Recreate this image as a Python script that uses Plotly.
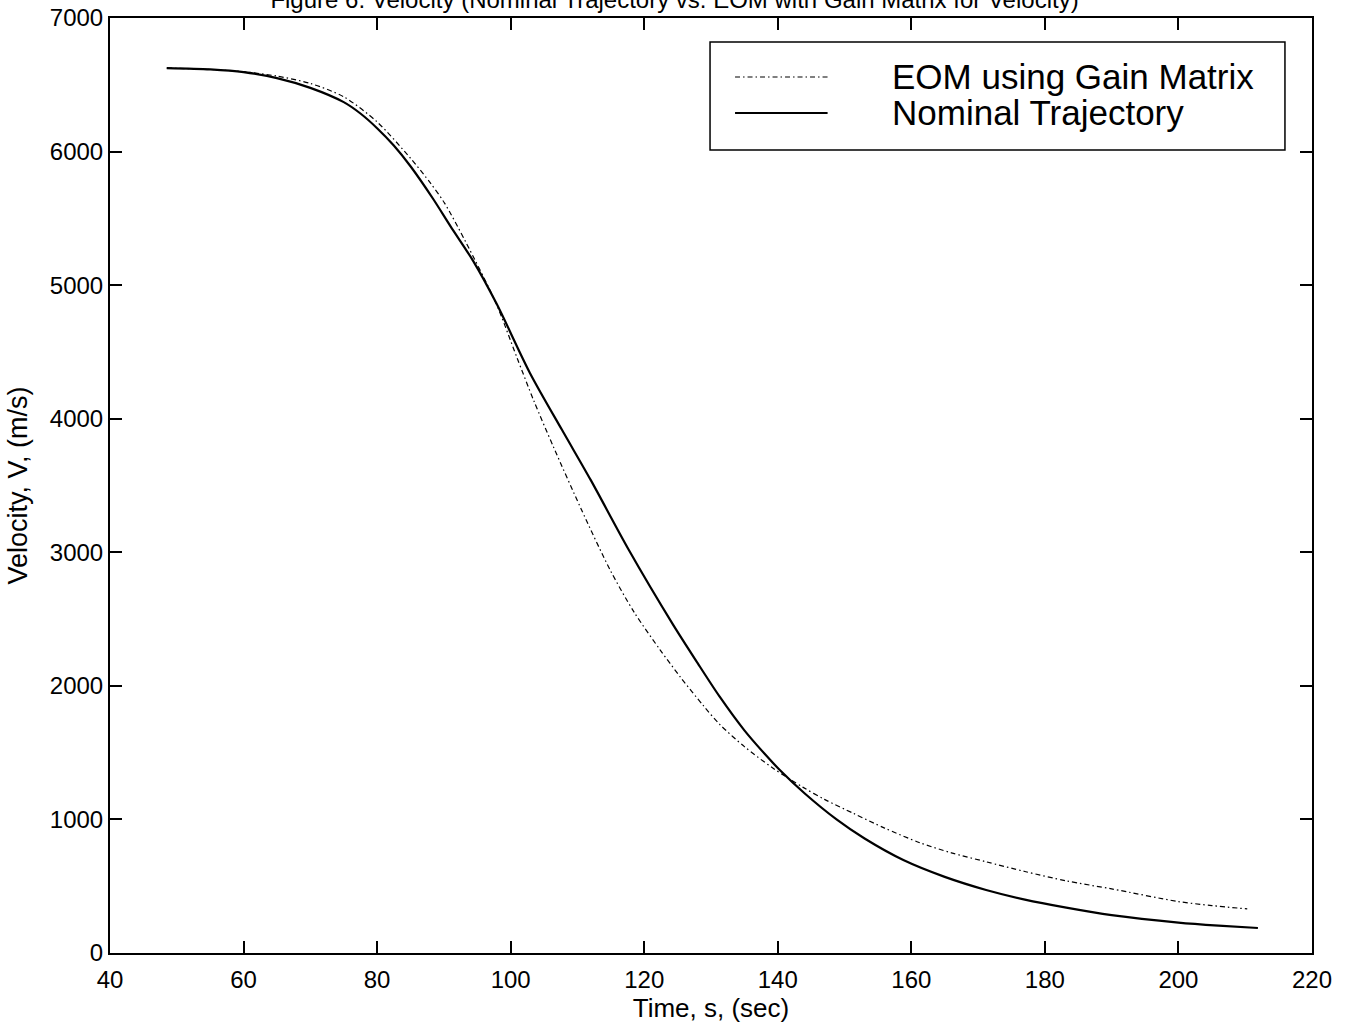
import plotly.graph_objects as go

# Nominal trajectory: time (s) and velocity (m/s)
t_nominal = [48.5, 55, 60, 65, 70, 75, 77.5, 80, 82.5, 85, 88.4, 91, 94.4, 97.9, 102.9,
             107.7, 112, 117.7, 124.2, 128, 131.3, 135, 138, 140.3, 144, 148.8, 153, 158.8,
             165, 171.2, 177, 183.2, 190, 200, 206, 211.9]
v_nominal = [6625, 6615, 6595, 6550, 6477, 6370, 6285, 6175, 6045, 5890, 5645, 5440, 5180,
             4860, 4341, 3915, 3540, 3017, 2468, 2170, 1919, 1667, 1493, 1370, 1196, 1000,
             857, 696, 570, 472, 400, 340, 284, 228, 205, 187]

# Equations of motion integrated with the gain matrix
t_eom = [48.5, 55, 60, 65, 70, 75, 80, 85, 88, 90.1, 93.3, 97.8, 100.9, 103.5, 106.4,
         110.5, 114.9, 118.5, 122.4, 125.5, 128.8, 131.3, 135, 139.3, 143.8, 147, 151.3,
         156, 161.3, 166, 171.2, 177, 183.2, 190, 200, 205, 210.3]
v_eom = [6625, 6615, 6598, 6565, 6510, 6410, 6222, 5950, 5763, 5614, 5320, 4865, 4463,
         4130, 3790, 3330, 2867, 2550, 2268, 2060, 1855, 1712, 1545, 1383, 1240, 1150,
         1046, 935, 825, 750, 683, 610, 540, 480, 385, 355, 330]

x_ticks = [40, 60, 80, 100, 120, 140, 160, 180, 200, 220]
y_ticks = [0, 1000, 2000, 3000, 4000, 5000, 6000, 7000]

legend_labels = ["EOM using Gain Matrix", "Nominal Trajectory"]

FONT = "Liberation Sans, Arial, sans-serif"
DASHDOT = "5px,3px,1.5px,3px"

fig = go.Figure()
fig.add_trace(go.Scatter(x=t_eom, y=v_eom, mode="lines", name=legend_labels[0],
                         line=dict(color="black", width=1.2, dash=DASHDOT, shape="spline",
                                   smoothing=0.8)))
fig.add_trace(go.Scatter(x=t_nominal, y=v_nominal, mode="lines", name=legend_labels[1],
                         line=dict(color="black", width=2.2, shape="spline", smoothing=0.8)))

axis_common = dict(
    showline=True, linecolor="black", linewidth=2, mirror="ticks",
    ticks="inside", ticklen=12, tickwidth=1.5, tickcolor="black",
    showgrid=False, zeroline=False, automargin=False,
    tickfont=dict(family=FONT, size=24, color="black"),
)

fig.update_xaxes(range=[40, 220], tickvals=x_ticks, ticklabelstandoff=4,
                 title=dict(text="Time, s, (sec)", font=dict(family=FONT, size=26, color="black"),
                            standoff=6),
                 **axis_common)
fig.update_yaxes(range=[0, 7000], tickvals=y_ticks,
                 title=dict(text="Velocity, V, (m/s)", font=dict(family=FONT, size=27, color="black"),
                            standoff=14),
                 **axis_common)

# Legend box drawn in paper coordinates
fig.add_shape(type="rect", xref="paper", yref="paper", x0=0.4992, x1=0.9775, y0=0.8588, y1=0.9743,
              line=dict(color="black", width=1.5), fillcolor="white", layer="above")
fig.add_shape(type="line", xref="paper", yref="paper", x0=0.520, x1=0.597, y0=0.9369, y1=0.9369,
              line=dict(color="black", width=1.2, dash=DASHDOT), layer="above")
fig.add_shape(type="line", xref="paper", yref="paper", x0=0.520, x1=0.597, y0=0.8984, y1=0.8984,
              line=dict(color="black", width=2.2), layer="above")
for label, yy in zip(legend_labels, [0.9369, 0.8984]):
    fig.add_annotation(text=label, xref="paper", yref="paper", x=0.6487, y=yy,
                       xanchor="left", yanchor="middle", showarrow=False,
                       font=dict(family=FONT, size=35, color="black"))

fig.update_layout(
    width=1349, height=1029,
    margin=dict(l=110, r=37, t=18, b=76),
    paper_bgcolor="white", plot_bgcolor="white",
    showlegend=False,
    title=dict(text="Figure 6. Velocity (Nominal Trajectory vs. EOM with Gain Matrix for Velocity)",
               x=0.5, xanchor="center", y=1.0, yanchor="middle",
               font=dict(family=FONT, size=24, color="black")),
)

fig.write_html("out.html")
